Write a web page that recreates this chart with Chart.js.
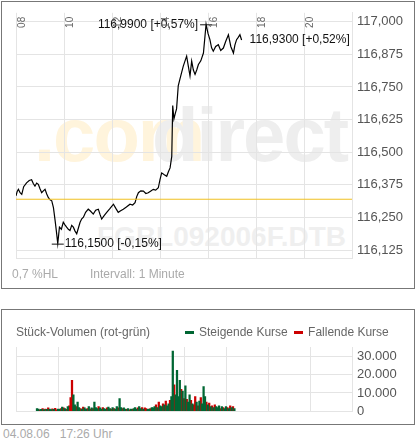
<!DOCTYPE html>
<html><head><meta charset="utf-8">
<script src="https://cdn.jsdelivr.net/npm/chart.js@4"></script>
<style>
body{margin:0;width:417px;height:443px;background:#fff;font-family:"Liberation Sans",Arial,sans-serif;position:relative;overflow:hidden}
.box{position:absolute;left:1px;width:412px;border:1px solid #777;box-sizing:content-box}
.t{position:absolute;white-space:nowrap;color:#999;font-size:12px;line-height:1.15}
canvas{position:absolute;left:0;top:0}
</style></head><body>
<div class="box" style="top:1px;height:286px"></div>
<div class="t" style="left:34px;top:91px;font-size:76px;font-weight:bold;color:#fff4dc;letter-spacing:-2px">.com</div>
<div class="t" style="left:152px;top:91px;font-size:76px;font-weight:bold;color:#eeeeee;letter-spacing:-2px">direct</div>
<div class="t" style="left:97px;top:221px;font-size:28px;font-weight:bold;color:#efefef">FGBL092006F.DTB</div>
<canvas id="c1" width="417" height="290"></canvas>
<div class="t" style="left:12px;top:268px;color:#aaa">0,7 %HL</div>
<div class="t" style="left:90px;top:268px;color:#aaa">Intervall: 1 Minute</div>
<div class="box" style="top:309px;height:114px"></div>
<canvas id="c2" width="417" height="115" style="top:309px"></canvas>
<div class="t" style="left:16px;top:326px;color:#666">Stück-Volumen (rot-grün)</div>
<div class="t" style="left:185px;top:326px;color:#666"><span style="display:inline-block;width:9px;height:3px;background:#006633;vertical-align:middle;margin-right:5px"></span>Steigende Kurse <span style="display:inline-block;width:9px;height:3px;background:#cc0000;vertical-align:middle;margin:0 5px 0 3px"></span>Fallende Kurse</div>
<div class="t" style="left:3px;top:428px;color:#aaa">04.08.06 &nbsp;&nbsp;17:26 Uhr</div>
<script>
const hourTicks=[8,10,12,14,16,18,20];
const priceTicks=[116.125,116.25,116.375,116.5,116.625,116.75,116.875,117.0];
const volTicks=[0,10000,20000,30000];
const refPrice=116.32;
const times=[8.00,8.05,8.10,8.17,8.24,8.32,8.44,8.55,8.65,8.72,8.79,8.86,8.93,9.00,9.07,9.14,9.21,9.28,9.35,9.42,9.49,9.56,9.63,9.68,9.74,9.81,9.89,9.97,10.04,10.11,10.18,10.25,10.32,10.39,10.46,10.53,10.60,10.67,10.74,10.81,10.90,11.01,11.10,11.22,11.32,11.43,11.50,11.57,11.68,11.78,11.92,12.06,12.16,12.26,12.36,12.47,12.60,12.75,12.86,12.96,13.03,13.10,13.20,13.31,13.41,13.51,13.62,13.72,13.82,13.93,14.00,14.07,14.18,14.28,14.35,14.42,14.49,14.53,14.58,14.64,14.69,14.76,14.83,14.90,14.97,15.04,15.11,15.18,15.25,15.32,15.39,15.46,15.53,15.60,15.70,15.81,15.92,16.00,16.08,16.15,16.22,16.32,16.43,16.53,16.64,16.74,16.85,16.95,17.06,17.12,17.19,17.26,17.33,17.40];
const prices=[116.333,116.350,116.358,116.345,116.339,116.368,116.383,116.392,116.395,116.380,116.370,116.382,116.377,116.360,116.345,116.352,116.358,116.340,116.326,116.318,116.314,116.288,116.238,116.200,116.150,116.213,116.205,116.232,116.222,116.213,116.205,116.200,116.220,116.213,116.198,116.188,116.210,116.232,116.245,116.251,116.270,116.282,116.275,116.263,116.278,116.282,116.262,116.244,116.258,116.270,116.285,116.301,116.285,116.270,116.276,116.282,116.290,116.301,116.298,116.307,116.330,116.345,116.352,116.351,116.342,116.345,116.352,116.358,116.355,116.364,116.395,116.421,116.414,116.408,116.425,116.440,116.484,116.679,116.628,116.650,116.666,116.754,116.780,116.805,116.830,116.849,116.868,116.830,116.792,116.849,116.815,116.798,116.815,116.836,116.850,116.880,116.990,116.955,116.931,116.900,116.887,116.905,116.912,116.890,116.899,116.925,116.950,116.905,116.880,116.910,116.931,116.940,116.950,116.930];
const vols=[1500,1200,800,1000,1500,900,1200,1000,1800,1100,
900,1300,1000,1600,800,1200,1000,1500,2200,1800,
1400,1000,2500,3000,7500,17000,9000,3500,2500,5000,
2000,1500,1200,2200,1800,1000,1500,2500,1200,1800,
1500,5000,2000,1500,2500,1800,1200,2000,1500,1000,
1800,2200,1500,1200,2000,1500,1200,2500,1800,7000,
2000,1500,1800,1200,1000,1500,800,1200,1000,1500,
2000,1200,1800,2500,1500,2000,1200,1800,1500,1000,
1200,1500,2000,1800,2500,3500,2000,5000,3000,2500,
4000,3500,5500,3000,4000,6000,8000,33000,14500,9000,
22500,8000,17000,12000,11000,7000,14000,6500,5000,9000,
6000,4000,3500,8000,5000,3000,5500,7500,4000,13500,
8000,5000,3500,4500,2500,3000,2000,3500,2500,2000,
3000,1500,2500,2000,1500,2500,2000,1500,3000,2000,2500,1500];
const dirs="ggrgrgrgrg"+"grgrrggrgr"+"grgrrrggrg"+"grgrggrgrg"+"rgggrggrgg"+"rggrgrggrg"+"grggrgrgrg"+"ggrggrgrrg"+"grgggrgrgg"+"rgrggrggrg"+"gggrgrgrgg"+"rgrrgrgrgg"+"grgrgrgrgg"+"grgrggrgrgrg";
const volStart=8, volStep=4/60;

const F='"Liberation Sans", Arial, sans-serif';
const upData=[],downData=[];
vols.forEach((v,i)=>{const p={x:volStart+i*volStep,y:v};(dirs[i]==='r'?downData:upData).push(p);});
const fmt=(v,d)=>v.toLocaleString('de-DE',{minimumFractionDigits:d,maximumFractionDigits:d});

const annot={id:'annot',afterDatasetsDraw(ch){
  const c=ch.ctx,x=ch.scales.x,y=ch.scales.y;
  c.save();c.font='12px '+F;c.fillStyle='#111';c.strokeStyle='#111';c.lineWidth=1;c.textBaseline='middle';
  const hi=prices.indexOf(Math.max(...prices)),lo=prices.indexOf(Math.min(...prices)),last=prices.length-1;
  let px=x.getPixelForValue(times[hi]),py=y.getPixelForValue(prices[hi]);
  c.beginPath();c.moveTo(px-6,py+0.5);c.lineTo(px+6,py+0.5);c.stroke();
  c.textAlign='right';c.fillText(fmt(prices[hi],4)+' [+0,57%]',px-8,py);
  px=x.getPixelForValue(times[lo]);py=y.getPixelForValue(prices[lo]);
  c.beginPath();c.moveTo(px-6,py+0.5);c.lineTo(px+6,py+0.5);c.stroke();
  c.textAlign='left';c.fillText(fmt(prices[lo],4)+' [-0,15%]',px+7,py);
  px=x.getPixelForValue(times[last]);py=y.getPixelForValue(prices[last]);
  c.fillText(fmt(prices[last],4)+' [+0,52%]',px+8,py);
  c.font='10px '+F;c.fillStyle='#666';
  hourTicks.forEach(h=>{const hx=x.getPixelForValue(h);c.save();c.translate(hx+6,y.top+4);c.rotate(-Math.PI/2);c.textAlign='right';c.fillText(String(h).padStart(2,'0'),0,0);c.restore();});
  c.restore();}};

new Chart(document.getElementById('c1'),{type:'line',
 data:{datasets:[
  {data:[{x:8,y:refPrice},{x:22,y:refPrice}],borderColor:'#f0c020',borderWidth:1,pointRadius:0},
  {data:times.map((t,i)=>({x:t,y:prices[i]})),borderColor:'#000',borderWidth:1.2,pointRadius:0,tension:0}]},
 options:{responsive:false,animation:false,events:[],devicePixelRatio:1,
  layout:{padding:{left:16,top:10,bottom:32,right:0}},
  plugins:{legend:{display:false},tooltip:{enabled:false}},
  scales:{
   x:{type:'linear',min:8,max:22,afterBuildTicks:s=>{s.ticks=[8,10,12,14,16,18,20,22].map(v=>({value:v}));},
      ticks:{display:false},grid:{color:'#e4e4e4',drawTicks:false},border:{display:true,color:'#e4e4e4'},afterFit:s=>{s.height=0;}},
   y:{position:'right',min:116.095,max:117.034,afterBuildTicks:s=>{s.ticks=priceTicks.map(v=>({value:v}));},
      ticks:{font:{family:F,size:13},color:'#555',padding:5,callback:v=>fmt(v,3)},
      grid:{color:'#e4e4e4',drawTicks:false},border:{color:'#e4e4e4'},afterFit:s=>{s.width=65;}}}},
 plugins:[annot]});

new Chart(document.getElementById('c2'),{type:'bar',
 data:{datasets:[
  {data:upData,backgroundColor:'#006633',barThickness:1.6,grouped:false},
  {data:downData,backgroundColor:'#cc0000',barThickness:1.6,grouped:false}]},
 options:{responsive:false,animation:false,events:[],devicePixelRatio:1,
  layout:{padding:{left:16,top:38,bottom:11,right:0}},
  plugins:{legend:{display:false},tooltip:{enabled:false}},
  scales:{
   x:{type:'linear',min:8,max:22,afterBuildTicks:s=>{s.ticks=[8,10,12,14,16,18,20,22].map(v=>({value:v}));},
      ticks:{display:false},grid:{color:'#e4e4e4',drawTicks:false},border:{color:'#e4e4e4'},afterFit:s=>{s.height=0;}},
   y:{position:'right',min:0,max:35270,afterBuildTicks:s=>{s.ticks=[0,5000,10000,15000,20000,25000,30000,35000].map(v=>({value:v}));},
      ticks:{font:{family:F,size:13},color:'#555',padding:5,callback:v=>volTicks.includes(v)?fmt(v,0):''},
      grid:{color:'#e4e4e4',drawTicks:false},border:{color:'#e4e4e4'},afterFit:s=>{s.width=65;}}}}});
</script>
</body></html>
